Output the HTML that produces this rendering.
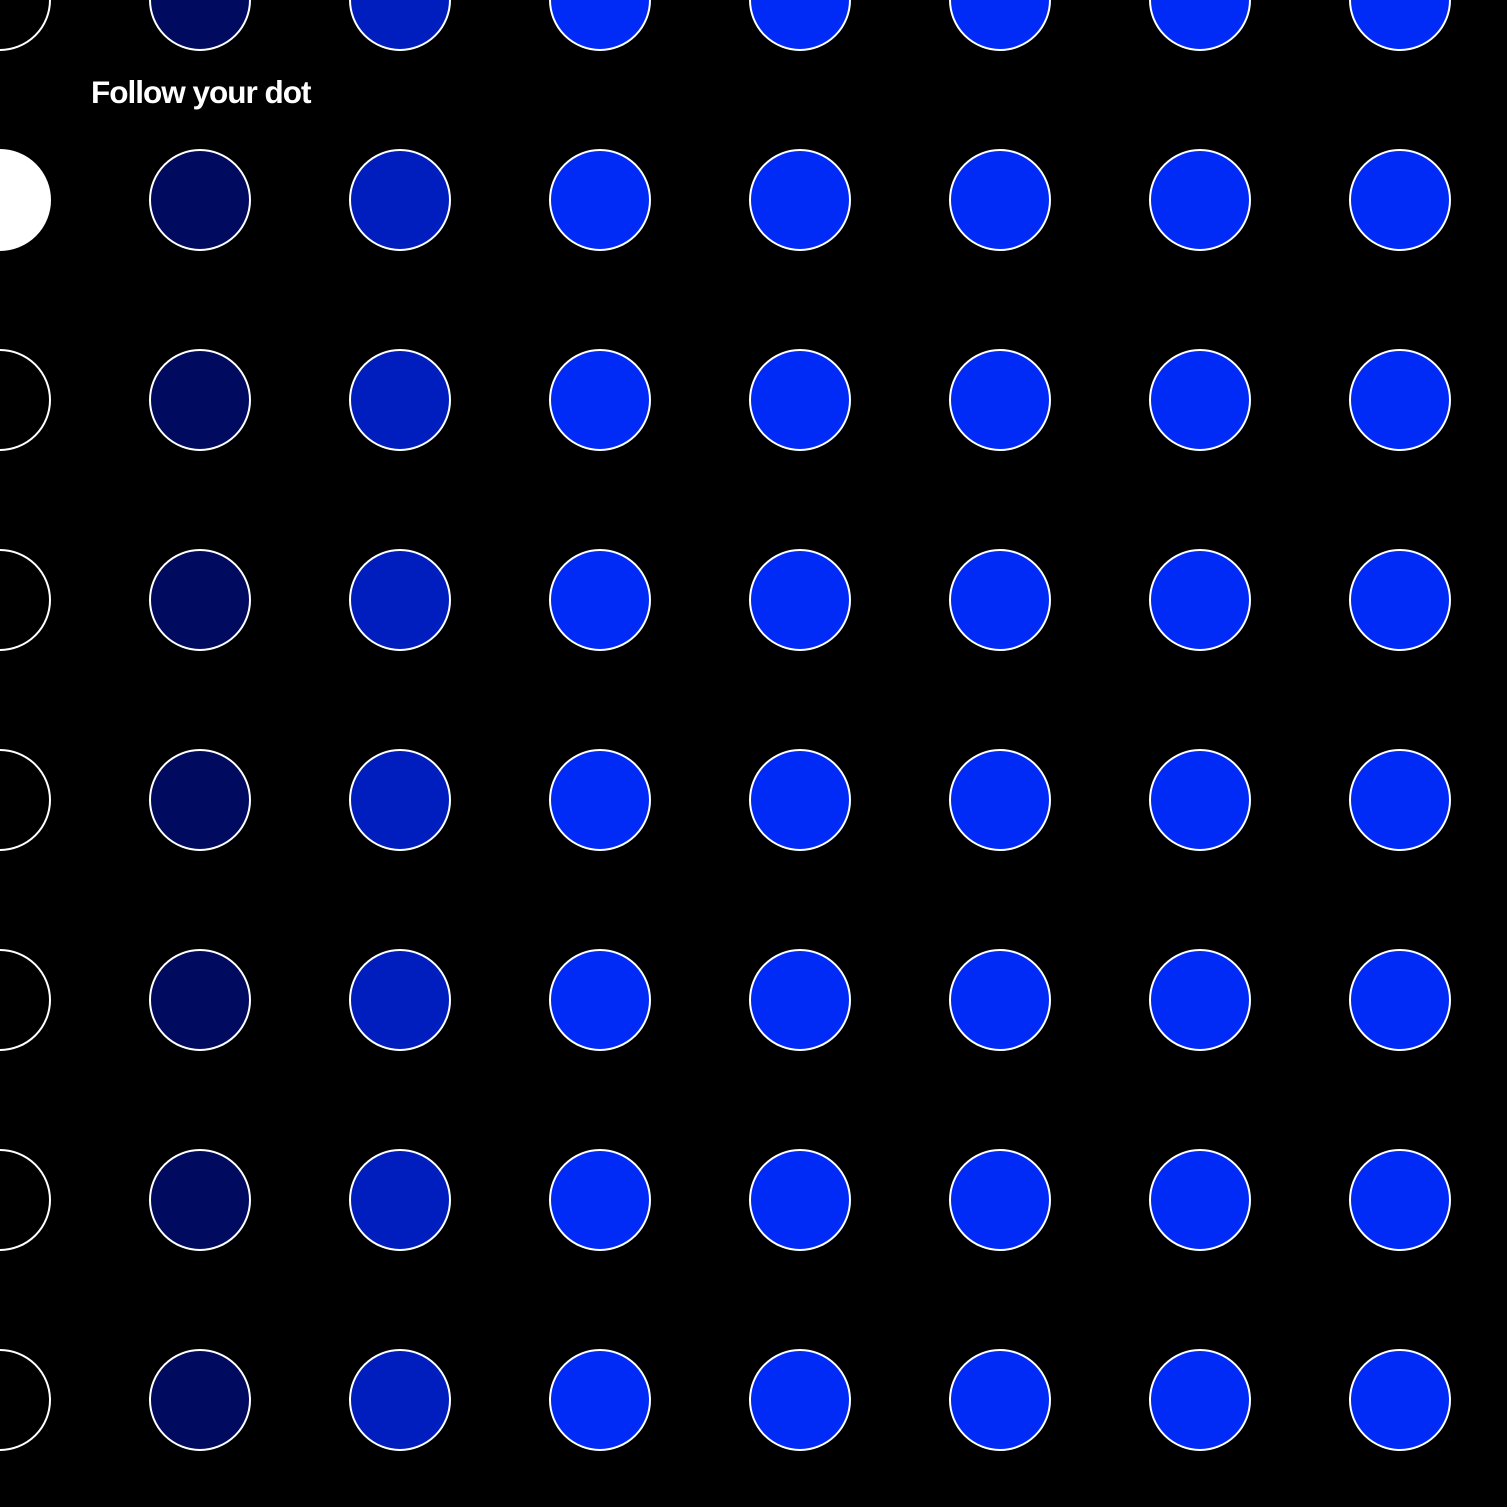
<!DOCTYPE html>
<html><head><meta charset="utf-8"><style>
html,body{margin:0;padding:0;background:#000;width:1507px;height:1507px;overflow:hidden}
svg{display:block}
</style></head><body>
<svg id="chart" width="1507" height="1507" viewBox="0 0 1507 1507">
<rect x="0" y="0" width="1507" height="1507" fill="#000"/>
<g id="dots"></g>
<text x="91" y="103" fill="#fff" font-family="'Liberation Sans', sans-serif" font-weight="bold" font-size="31.5" letter-spacing="-1">Follow your dot</text>
</svg>
<script>
const columns = [0,1,2,3,4,5,6,7];
const rows = [0,1,2,3,4,5,6,7];
const columnLevel = [0,1,2,3,3,3,3,3];
const levelColors = ["#000000","#000a5e","#001ebd","#002af5"];
const highlight = [1,0]; // [row, col]
const step = 200, radius = 50;
const xScale = c => c * step;
const yScale = r => r * step;
const g = document.getElementById('dots');
const ns = 'http://www.w3.org/2000/svg';
rows.forEach(r => {
  columns.forEach(c => {
    const el = document.createElementNS(ns, 'circle');
    el.setAttribute('cx', xScale(c));
    el.setAttribute('cy', yScale(r));
    el.setAttribute('r', radius);
    const hl = r === highlight[0] && c === highlight[1];
    el.setAttribute('fill', hl ? '#ffffff' : levelColors[columnLevel[c]]);
    el.setAttribute('stroke', '#ffffff');
    el.setAttribute('stroke-width', '2');
    
    
    g.appendChild(el);
  });
});
</script>
</body></html>
